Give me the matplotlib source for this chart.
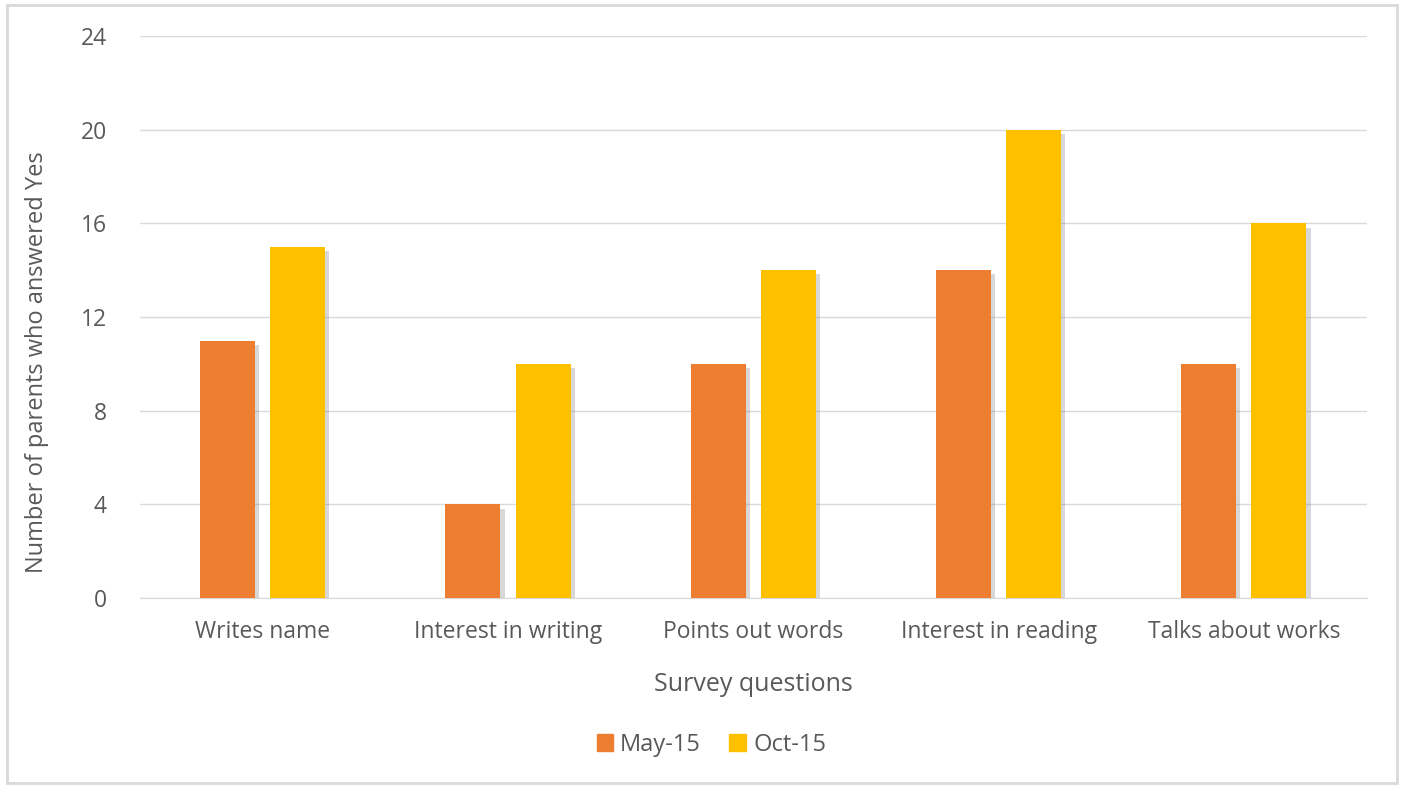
import matplotlib.pyplot as plt
import matplotlib.patheffects as pe
from matplotlib.patches import Rectangle, Patch
import numpy as np

plt.rcParams['font.family'] = ['Open Sans', 'DejaVu Sans']

categories = ['Writes name', 'Interest in writing', 'Points out words',
              'Interest in reading', 'Talks about works']
may15 = [11, 4, 10, 14, 10]
oct15 = [15, 10, 14, 20, 16]
yticks = [0, 4, 8, 12, 16, 20, 24]

text_col = '#595959'
fig = plt.figure(figsize=(14.03, 7.85), dpi=100)
ax = fig.add_axes([0.0998, 0.238, 0.8742, 0.716])

x = np.arange(len(categories))
w = 0.224
shadow = [pe.SimplePatchShadow(offset=(3, -3), shadow_rgbFace='#7f7f7f', alpha=0.3, rho=0.6), pe.Normal()]
b1 = ax.bar(x - 0.143, may15, w, color='#ED7D31', zorder=3)
b2 = ax.bar(x + 0.143, oct15, w, color='#FFC000', zorder=3)
for b in list(b1) + list(b2):
    b.set_path_effects(shadow)

ax.set_xlim(-0.5, len(categories) - 0.5)
ax.set_ylim(0, 24)
ax.set_yticks(yticks)
ax.set_xticks(x)
ax.set_xticklabels(categories)
ax.grid(axis='y', color='#D9D9D9', linewidth=1, zorder=0)
for s in ['top', 'right', 'left']:
    ax.spines[s].set_visible(False)
ax.spines['bottom'].set_color('#D9D9D9')
ax.tick_params(axis='both', length=0, labelsize=16.5, colors=text_col)
ax.tick_params(axis='x', pad=16)
ax.tick_params(axis='y', pad=24)
ax.set_xlabel('Survey questions', fontsize=18, color=text_col, labelpad=20)
ax.set_ylabel('Number of parents who answered Yes', fontsize=17, color=text_col, labelpad=21)
ax.yaxis.set_label_coords(-0.074, 0.42)

handles = [Patch(color='#ED7D31'), Patch(color='#FFC000')]
fig.legend(handles=handles, labels=['May-15', 'Oct-15'], loc='center',
           bbox_to_anchor=(0.507, 0.051), ncol=2, frameon=False, fontsize=17,
           labelcolor=text_col, handlelength=0.7, handleheight=0.7,
           handletextpad=0.3, columnspacing=1.2)

fig.patches.append(Rectangle((0.005, 0.002), 0.991, 0.992, transform=fig.transFigure,
                             fill=False, edgecolor='#D9D9D9', linewidth=2))

plt.savefig('out.png', dpi=100)
